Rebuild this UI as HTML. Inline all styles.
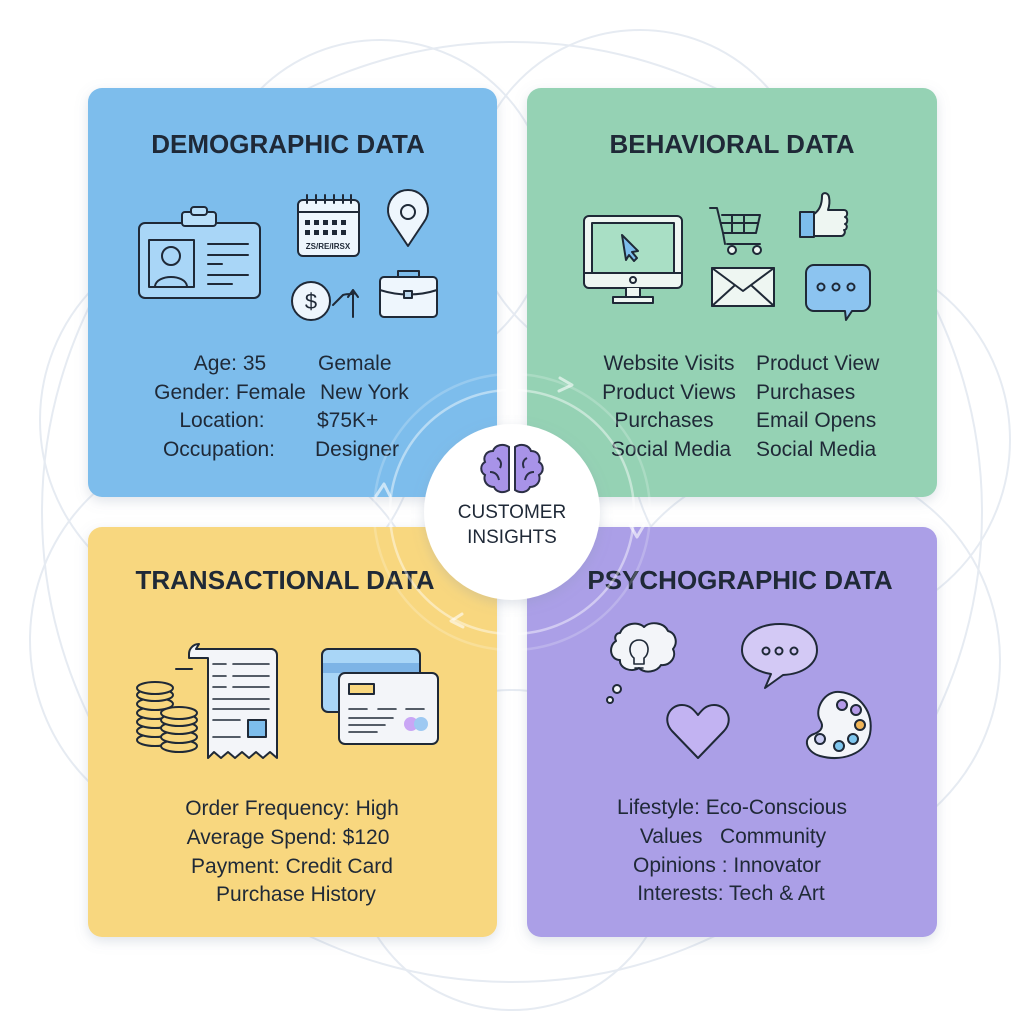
<!DOCTYPE html>
<html><head><meta charset="utf-8"><style>
html,body{margin:0;padding:0;background:#fff;}
svg{display:block;}
text{font-family:"Liberation Sans","DejaVu Sans",sans-serif;fill:#1f2937;}
</style></head><body>
<svg width="1024" height="1024" viewBox="0 0 1024 1024" xmlns="http://www.w3.org/2000/svg">
<defs>
<filter id="sh" x="-10%" y="-10%" width="120%" height="120%"><feDropShadow dx="0" dy="4" stdDeviation="6" flood-color="#8090a8" flood-opacity="0.25"/></filter>
</defs>
<rect width="1024" height="1024" fill="#fff"/>
<g fill="none" stroke="#e6ebf2" stroke-width="2">
<circle cx="512" cy="512" r="470"/>
<circle cx="380" cy="210" r="170"/>
<circle cx="640" cy="200" r="170"/>
<circle cx="230" cy="420" r="190"/>
<circle cx="820" cy="440" r="190"/>
<circle cx="230" cy="640" r="200"/>
<circle cx="800" cy="660" r="200"/>
<circle cx="512" cy="850" r="160"/>
</g>
<g filter="url(#sh)">
<rect x="88" y="88" width="409" height="409" rx="14" fill="#7dbdec"/>
<rect x="527" y="88" width="410" height="409" rx="14" fill="#95d2b4"/>
<rect x="88" y="527" width="409" height="410" rx="14" fill="#f8d77f"/>
<rect x="527" y="527" width="410" height="410" rx="14" fill="#ab9fe7"/>
</g>
<g font-weight="bold" font-size="26" text-anchor="middle">
<text x="288" y="153">DEMOGRAPHIC DATA</text>
<text x="732" y="153">BEHAVIORAL DATA</text>
<text x="285" y="589">TRANSACTIONAL DATA</text>
<text x="740" y="589">PSYCHOGRAPHIC DATA</text>
</g>
<g font-size="21">
<g text-anchor="middle">
<text x="230" y="370">Age: 35</text>
<text x="230" y="399">Gender: Female</text>
<text x="222" y="427">Location:</text>
<text x="219" y="456">Occupation:</text>
<text x="669" y="370">Website Visits</text>
<text x="669" y="399">Product Views</text>
<text x="664" y="427">Purchases</text>
<text x="671" y="456">Social Media</text>
<text x="292" y="815">Order Frequency: High</text>
<text x="288" y="844">Average Spend: $120</text>
<text x="292" y="873">Payment: Credit Card</text>
<text x="296" y="901">Purchase History</text>
<text x="732" y="814">Lifestyle: Eco-Conscious</text>
<text x="733" y="843">Values&#160;&#160;&#160;Community</text>
<text x="727" y="872">Opinions : Innovator</text>
<text x="731" y="900">Interests: Tech &amp; Art</text>
</g>
<text x="318" y="370">Gemale</text>
<text x="320" y="399">New York</text>
<text x="317" y="427">$75K+</text>
<text x="315" y="456">Designer</text>
<text x="756" y="370">Product View</text>
<text x="756" y="399">Purchases</text>
<text x="756" y="427">Email Opens</text>
<text x="756" y="456">Social Media</text>
</g>
<g fill="none" stroke="#ffffff" stroke-width="2.5">
<circle cx="512" cy="512" r="122" stroke-opacity="0.45"/>
<circle cx="512" cy="512" r="138" stroke-opacity="0.2"/>
</g>
<g fill="none" stroke="#fff" stroke-opacity="0.6" stroke-width="3" stroke-linecap="round" stroke-linejoin="round">
<path d="M560 378 l12 7 l-13 6"/>
<path d="M630 525 l7 12 l7 -12"/>
<path d="M462 614 l-11 7 l12 6"/>
<path d="M376 496 l8 -12 l6 12"/>
</g>
<circle cx="512" cy="512" r="88" fill="#fff" filter="url(#sh)"/>
<g stroke="#2b2f45" stroke-width="2" fill="#a893e8">
<path d="M509 447 c-6-4-14-2-16 4 c-7 0-10 6-8 11 c-5 3-5 10 0 13 c-2 6 2 12 9 12 c2 5 9 7 15 3 z"/>
<path d="M515 447 c6-4 14-2 16 4 c7 0 10 6 8 11 c5 3 5 10 0 13 c2 6-2 12-9 12 c-2 5-9 7-15 3 z"/>
<path d="M497 458 c4 2 5 6 3 10 M490 472 c5 0 8 3 9 8 M527 458 c-4 2-5 6-3 10 M534 472 c-5 0-8 3-9 8" fill="none"/>
</g>
<g font-size="19" text-anchor="middle">
<text x="512" y="518">CUSTOMER</text>
<text x="512" y="543">INSIGHTS</text>
</g>
<g stroke="#1f2937" stroke-width="2" stroke-linejoin="round" stroke-linecap="round">
<rect x="139" y="223" width="121" height="75" rx="6" fill="#a9d6f7"/>
<rect x="182" y="212" width="34" height="14" rx="3" fill="#b9dff9"/>
<rect x="191" y="207" width="16" height="8" rx="3" fill="#b9dff9"/>
<rect x="149" y="240" width="45" height="47" fill="#a9d6f7"/>
<circle cx="171" cy="256" r="9" fill="none"/>
<path d="M155 286 c2-12 30-12 32 0" fill="none"/>
<path d="M208 244h40M208 255h40M208 264h14M208 275h40M208 284h24" fill="none"/>
<rect x="298" y="200" width="61" height="56" rx="5" fill="#eef6fd"/>
<path d="M298 212h61M307 195v8M316 195v8M325 195v8M334 195v8M343 195v8M351 195v8" fill="none"/>
<g fill="#1f2937" stroke="none">
<rect x="305" y="220" width="5" height="5"/><rect x="314" y="220" width="5" height="5"/><rect x="323" y="220" width="5" height="5"/><rect x="332" y="220" width="5" height="5"/><rect x="341" y="220" width="5" height="5"/>
<rect x="305" y="230" width="5" height="5"/><rect x="314" y="230" width="5" height="5"/><rect x="323" y="230" width="5" height="5"/><rect x="332" y="230" width="5" height="5"/><rect x="341" y="230" width="5" height="5"/>
</g>
<text x="328" y="249" font-size="8" text-anchor="middle" stroke="none" font-weight="bold">ZS/RE/IRSX</text>
<path d="M408 246 l-16-24 a20 20 0 1 1 32 0 z" fill="#eef6fd"/>
<circle cx="408" cy="212" r="7" fill="none"/>
<circle cx="311" cy="301" r="19" fill="#eef6fd"/>
<text x="311" y="309" font-size="22" text-anchor="middle" stroke="none">$</text>
<path d="M333 305 l10-10 c6-2 10 0 12-2 M353 317 v-27 l-5 7 M353 290 l5 7" fill="none"/>
<rect x="380" y="277" width="57" height="40" rx="4" fill="#eef6fd"/>
<path d="M398 277 v-6 h21 v6 M380 290 c18 6 39 6 57 0" fill="none"/>
<rect x="404" y="291" width="8" height="7" fill="#bcd8ee"/>
<rect x="584" y="216" width="98" height="72" rx="5" fill="#eef6f2"/>
<rect x="592" y="223" width="82" height="50" fill="#a9dfc5"/>
<path d="M584 273h98" fill="none"/>
<circle cx="633" cy="280" r="3" fill="none"/>
<path d="M626 288 v9 h14 v-9 M613 303 h40 v-6 h-40 z" fill="#eef6f2"/>
<path d="M622 235 l16 16 l-6 1 l5 6 l-3 3 l-5-6 l-3 5 z" fill="#7dbdec"/>
<path d="M710 208 h7 l6 25 h33 l4-18 h-38 M721 223 h37 M732 215 v18 M744 215 v18 M727 244 h33 M723 233 l2 11" fill="none"/>
<circle cx="732" cy="250" r="4" fill="#eef6f2"/><circle cx="757" cy="250" r="4" fill="#eef6f2"/>
<rect x="800" y="212" width="14" height="25" fill="#7dbdec"/>
<path d="M814 214 c6-4 8-10 8-18 c0-4 6-4 7 1 c1 5 0 10-1 13 h16 c4 0 4 6 1 7 c3 1 3 6 0 7 c3 1 2 6-1 6 c2 2 0 6-3 6 h-27 z" fill="#eef6f2"/>
<rect x="712" y="268" width="62" height="38" fill="#eef6f2"/>
<path d="M712 268 l31 23 l31-23 M712 306 l22-20 M774 306 l-22-20" fill="none"/>
<path d="M814 265 h48 a8 8 0 0 1 8 8 h0 v30 a8 8 0 0 1-8 8 h-10 l-6 9 l-1-9 h-31 a8 8 0 0 1-8-8 v-30 a8 8 0 0 1 8-8 z" fill="#8cc4f0"/>
<circle cx="821" cy="287" r="3.5" fill="none"/><circle cx="836" cy="287" r="3.5" fill="none"/><circle cx="851" cy="287" r="3.5" fill="none"/>
<g fill="#f8d77f">
<ellipse cx="155" cy="740" rx="18" ry="6"/><ellipse cx="155" cy="731" rx="18" ry="6"/><ellipse cx="155" cy="722" rx="18" ry="6"/><ellipse cx="155" cy="713" rx="18" ry="6"/><ellipse cx="155" cy="704" rx="18" ry="6"/><ellipse cx="155" cy="695" rx="18" ry="6"/><ellipse cx="155" cy="688" rx="18" ry="6"/>
<ellipse cx="179" cy="746" rx="18" ry="6"/><ellipse cx="179" cy="737" rx="18" ry="6"/><ellipse cx="179" cy="728" rx="18" ry="6"/><ellipse cx="179" cy="720" rx="18" ry="6"/><ellipse cx="179" cy="713" rx="18" ry="6"/>
</g>
<path d="M196 649 h76 a6 6 0 0 1 5 6 v103 l-7-6 l-7 6 l-7-6 l-7 6 l-7-6 l-7 6 l-7-6 l-7 6 l-7-6 l-6 6 v-100 h-19 v-4 a10 10 0 0 1 10-10 z" fill="#f3f5f9"/>
<path d="M192 669 h-16" fill="none"/>
<path d="M213 664h13M233 664h36M213 676h13M233 676h36M213 687h13M233 687h36M213 699h56M213 709h56M213 720h27M213 737h27" fill="none" stroke-width="1.6"/>
<rect x="248" y="720" width="18" height="17" fill="#7dbdec"/>
<rect x="322" y="649" width="98" height="63" rx="6" fill="#a9d6f7"/>
<rect x="323" y="663" width="96" height="10" fill="#7db4e6" stroke="none"/>
<rect x="339" y="673" width="99" height="71" rx="6" fill="#f3f5f9"/>
<rect x="349" y="684" width="25" height="10" fill="#f8d77f"/>
<path d="M349 709h18M378 709h18M406 709h18M349 718h44M349 725h36M349 732h28" fill="none" stroke-width="1.6"/>
<circle cx="411" cy="724" r="7" fill="#c9a6f5" stroke="none"/><circle cx="421" cy="724" r="7" fill="#9ec9f2" stroke="none"/>
<path d="M620 633 c4-10 18-12 24-6 c6-6 20-5 24 4 c8 2 10 12 5 18 c4 8-3 17-12 16 c-4 7-16 9-22 3 c-8 5-20 0-19-8 c-10 0-12-14-4-19 c-2-4 0-8 4-8 z" fill="#f3f5f9"/>
<path d="M634 664 v-6 c-6-4-6-18 5-18 c11 0 11 14 5 18 v6 z M635 668 h8" fill="none" stroke-width="1.6"/>
<circle cx="617" cy="689" r="4" fill="#f3f5f9"/><circle cx="610" cy="700" r="3" fill="#f3f5f9"/>
<path d="M780 624 c22 0 37 11 37 26 c0 14-14 24-34 25 l-18 13 l6-14 c-18-3-29-13-29-24 c0-15 16-26 38-26 z" fill="#d3c9f5"/>
<circle cx="766" cy="651" r="3.5" fill="none"/><circle cx="779" cy="651" r="3.5" fill="none"/><circle cx="794" cy="651" r="3.5" fill="none"/>
<path d="M698 758 l-26-27 c-10-11-3-26 10-26 c8 0 12 5 16 10 c4-5 8-10 16-10 c13 0 20 15 10 26 z" fill="#c2b3f2"/>
<path d="M840 692 c20 2 34 20 30 42 c-4 20-28 28-50 22 c-14-4-18-18-6-22 c8-3 10-8 6-14 c-6-10 4-30 20-28 z" fill="#f3f5f9"/>
<circle cx="842" cy="705" r="5" fill="#b49ae8"/><circle cx="856" cy="710" r="5" fill="#b49ae8"/><circle cx="860" cy="725" r="5" fill="#f1b558"/>
<circle cx="853" cy="739" r="5" fill="#7fc6ee"/><circle cx="839" cy="746" r="5" fill="#7fc6ee"/><circle cx="820" cy="739" r="5" fill="#c9ccf2"/>
</g>
</svg>
</body></html>
